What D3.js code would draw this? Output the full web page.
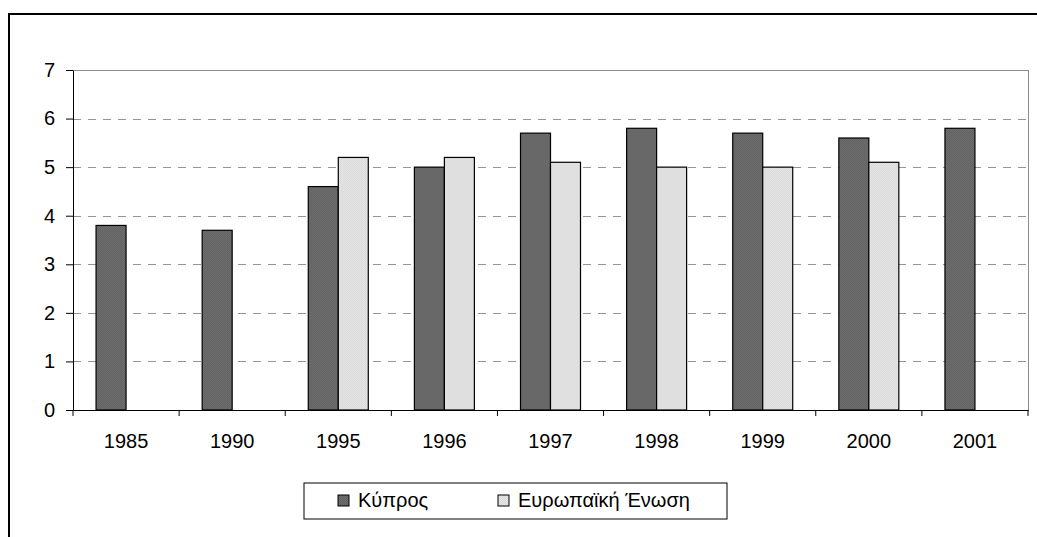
<!DOCTYPE html>
<html>
<head>
<meta charset="utf-8">
<script src="https://cdn.jsdelivr.net/npm/d3@7"></script>
<style>
  body { margin: 0; background: #fff; }
  svg { display: block; font-family: "Liberation Sans", Arial, sans-serif; }
</style>
</head>
<body>
<svg id="chart" width="1037" height="537"></svg>
<script>
// chart data
var years = ["1985", "1990", "1995", "1996", "1997", "1998", "1999", "2000", "2001"];
var cyprus = [3.8, 3.7, 4.6, 5.0, 5.7, 5.8, 5.7, 5.6, 5.8];
var eu = [null, null, 5.2, 5.2, 5.1, 5.0, 5.0, 5.1, null];
var seriesNames = ["Κύπρος", "Ευρωπαϊκή Ένωση"];
var yTicks = [0, 1, 2, 3, 4, 5, 6, 7];

var margin = {left: 73, right: 9, top: 70, bottom: 127};
var width = 1037 - margin.left - margin.right;
var height = 537 - margin.top - margin.bottom;
var fontSize = 20;

var svg = d3.select("#chart");

// fill patterns, like the old office hatching
var defs = svg.append("defs");
var pDark = defs.append("pattern").attr("id", "darkFill")
    .attr("width", 2).attr("height", 2).attr("patternUnits", "userSpaceOnUse");
pDark.append("rect").attr("width", 2).attr("height", 2).attr("fill", "#606060");
pDark.append("rect").attr("width", 1).attr("height", 1).attr("fill", "#707070");
pDark.append("rect").attr("x", 1).attr("y", 1).attr("width", 1).attr("height", 1).attr("fill", "#707070");

var pLight = defs.append("pattern").attr("id", "lightFill")
    .attr("width", 2).attr("height", 2).attr("patternUnits", "userSpaceOnUse");
pLight.append("rect").attr("width", 2).attr("height", 2).attr("fill", "#e9e9e9");
pLight.append("rect").attr("width", 1).attr("height", 1).attr("fill", "#d6d6d6");
pLight.append("rect").attr("x", 1).attr("y", 1).attr("width", 1).attr("height", 1).attr("fill", "#d6d6d6");

var fills = ["url(#darkFill)", "url(#lightFill)"];

// outer frame (top and left edges only show)
svg.append("path")
    .attr("d", "M9,537 V14 H1037")
    .attr("fill", "none")
    .attr("stroke", "#000")
    .attr("stroke-width", 2);

var g = svg.append("g")
    .attr("transform", "translate(" + margin.left + "," + margin.top + ")");

var x = d3.scaleBand()
    .domain(years)
    .range([0, width]);

var x1 = d3.scaleBand()
    .domain([0, 1])
    .range([0, 60]);

var y = d3.scaleLinear()
    .domain([0, 7])
    .range([height, 0]);

// plot area border (gray)
g.append("rect")
    .attr("x", 0).attr("y", 0)
    .attr("width", width).attr("height", height)
    .attr("fill", "none")
    .attr("stroke", "#8c8c8c")
    .attr("stroke-width", 1)
    .attr("shape-rendering", "crispEdges");

// gridlines
g.append("g")
    .attr("class", "grid")
    .selectAll("line")
    .data(yTicks.filter(function(d) { return d > 0 && d < 7; }))
    .enter().append("line")
    .attr("x1", 0).attr("x2", width)
    .attr("y1", function(d) { return Math.round(y(d)) + 0.5; })
    .attr("y2", function(d) { return Math.round(y(d)) + 0.5; })
    .attr("stroke", "#959595")
    .attr("stroke-dasharray", "8,7");

// bars
var groups = g.selectAll(".year")
    .data(years)
    .enter().append("g")
    .attr("class", "year")
    .attr("transform", function(d) {
        return "translate(" + (x(d) + x.bandwidth() / 2 - 30) + ",0)";
    });

groups.selectAll("rect")
    .data(function(d, i) { return [cyprus[i], eu[i]]; })
    .enter().filter(function(d) { return d != null; })
    .append("rect")
    .attr("x", function(d, j) { return x1(j); })
    .attr("y", function(d) { return y(d); })
    .attr("width", x1.bandwidth())
    .attr("height", function(d) { return height - y(d); })
    .attr("fill", function(d, j) { return fills[j]; })
    .attr("stroke", "#000")
    .attr("stroke-width", 1.2);

// axes
var yAxis = g.append("g")
    .call(d3.axisLeft(y).tickValues(yTicks).tickFormat(d3.format("d"))
        .tickSize(7).tickPadding(11).tickSizeOuter(0));

var xAxis = g.append("g")
    .attr("transform", "translate(0," + height + ")")
    .call(d3.axisBottom(x).tickSize(0).tickPadding(24).tickSizeOuter(0));

// x ticks sit between the categories
xAxis.selectAll(".sep")
    .data(d3.range(years.length + 1))
    .enter().append("line")
    .attr("x1", function(i) { return i * x.step(); })
    .attr("x2", function(i) { return i * x.step(); })
    .attr("y1", 0).attr("y2", 6)
    .attr("stroke", "#000");

svg.selectAll(".domain").attr("stroke", "#000");
svg.selectAll(".tick text")
    .attr("font-size", fontSize)
    .attr("font-family", "Liberation Sans, Arial, sans-serif")
    .attr("fill", "#000");

// legend
var legend = svg.append("g").attr("transform", "translate(304,483)");
legend.append("rect")
    .attr("width", 423).attr("height", 36)
    .attr("fill", "#fff")
    .attr("stroke", "#000")
    .attr("stroke-width", 1);

var legendX = [34, 194];
var items = legend.selectAll(".item")
    .data(seriesNames)
    .enter().append("g")
    .attr("transform", function(d, i) { return "translate(" + legendX[i] + ",12)"; });

items.append("rect")
    .attr("width", 11).attr("height", 11)
    .attr("fill", function(d, i) { return fills[i]; })
    .attr("stroke", "#000");

items.append("text")
    .attr("x", 20).attr("y", 12)
    .attr("font-size", 20)
    .text(function(d) { return d; });
</script>
</body>
</html>
